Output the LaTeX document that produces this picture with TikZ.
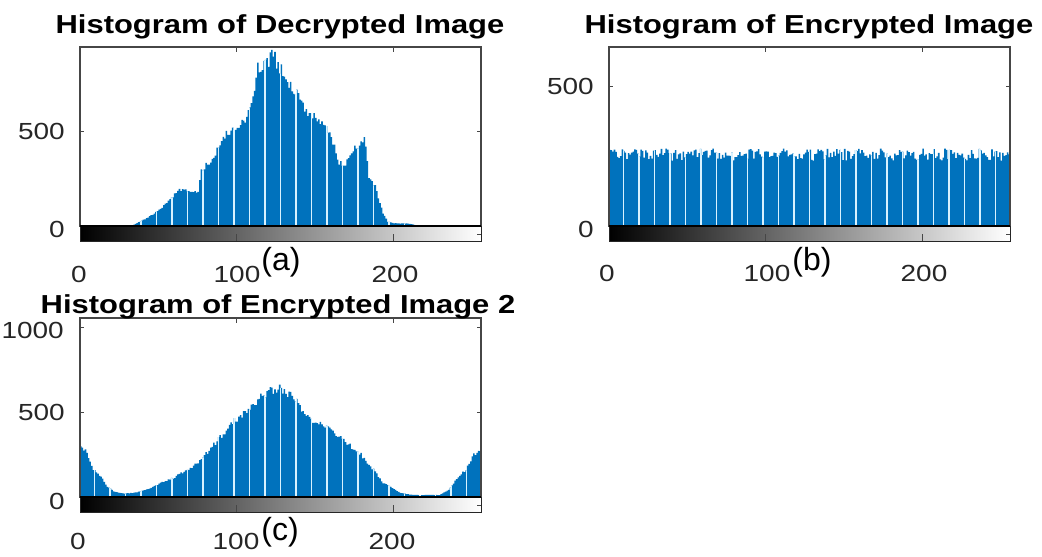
\documentclass[tikz,border=0pt]{standalone}
\usepackage{fontspec}
\setmainfont{Liberation Sans}
\definecolor{histblue}{RGB}{0,114,189}
\definecolor{barlinecol}{RGB}{215,242,255}
\definecolor{axisgray}{RGB}{70,70,70}
\definecolor{ticktext}{RGB}{38,38,38}

% Build a step outline (\histpath) for 256 bins from piecewise-linear
% control points bin/count, with a relative random jitter per bin.
\newcommand\buildhist[2]{%
  \gdef\histpath{}%
  \foreach \cpb/\cph [remember=\cpb as \opb (initially 0),
                      remember=\cph as \oph (initially 0)] in {#2} {%
    \ifnum\cpb>\opb\relax
      \pgfmathtruncatemacro\lastbin{\cpb-1}%
      \foreach \k in {\opb,...,\lastbin} {%
        \pgfmathsetmacro\hv{max(0,(\oph+(\cph-\oph)*(\k-\opb)/(\cpb-\opb))*(1+#1*rand))}%
        \pgfmathtruncatemacro\kk{\k+1}%
        \xdef\histpath{\histpath -- (\k,\hv) -- (\kk,\hv)}%
      }%
    \fi
  }%
}

% Histogram bars, colour bar and frame of one panel.
% #1 left x, #2 zero-line y, #3 top y, #4 pixels per count, #5 jitter, #6 control points
\newcommand\histpanel[6]{%
  \begin{scope}[shift={(#1,#2)}, xscale=1.5664, yscale=-#4]
    \buildhist{#5}{#6}
    \fill[hbar] (0,0) \histpath -- (256,0) -- cycle;
    \begin{scope}
      \clip (0,0) \histpath -- (256,0) -- cycle;
      \foreach \j in {1,...,25}
        \draw[barline] ({\j*9.895-0.64},0) -- ({\j*9.895-0.64},3000);
    \end{scope}
  \end{scope}
  \draw[axisbox] (#1,#3) rectangle ({#1+401},#2);
  \draw[tickmark] ({#1+156.6},#3) -- ++(0,5);
  \draw[tickmark] ({#1+313.3},#3) -- ++(0,5);
  \shade[left color=black, right color=white] (#1,#2) rectangle ({#1+401},{#2+15});
  \draw[cbframe] (#1,#2) rectangle ({#1+401},{#2+15});
  \draw[zeroline] (#1,#2) -- ({#1+401},#2);
  \draw[tickmark] ({#1+156.6},{#2+15}) -- ++(0,-7);
  \draw[tickmark] ({#1+313.3},{#2+15}) -- ++(0,-7);
  \draw[tickmark] ({#1+401},{#2+8}) -- ++(-4,0);
}

\begin{document}
\begin{tikzpicture}[x=1pt, y=-1pt,
  hbar/.style={fill=histblue},
  barline/.style={draw=barlinecol, line width=1.4pt},
  axisbox/.style={draw=axisgray, line width=1.1pt},
  tickmark/.style={draw=axisgray, line width=0.9pt},
  cbframe/.style={draw=black!85, line width=1pt},
  zeroline/.style={draw=black, line width=2.6pt},
  plottitle/.style={font=\fontsize{26}{30}\selectfont\bfseries, xscale=1.19,
                    anchor=base, inner sep=0pt},
  ticklab/.style={font=\fontsize{23.3}{28}\selectfont, text=ticktext, xscale=1.2,
                  inner sep=0pt},
  panellab/.style={font=\fontsize{32}{38}\selectfont, anchor=base, inner sep=0pt}]
\useasboundingbox (0,0) rectangle (1042,557);
\fill[white] (0,0) rectangle (1042,557);
\pgfmathsetseed{4711}

% ---------- (a) decrypted image ----------
\histpanel{80}{226}{47}{0.19}{0.05}{0/0, 32/0, 36/15, 42/40, 47/67, 52/100, 57/135,
  62/190, 70/185, 75/180, 77/300, 82/330, 86/380, 91/470, 97/520, 105/560, 108/600,
  110/660, 113/820, 118/870, 122/890, 125/870, 129/800, 135/716, 140/663, 148/575,
  155/540, 161/450, 165/330, 170/335, 174/400, 180/455, 182/440, 184/260, 188/210,
  193/67, 196/23, 200/15, 210/12, 216/0, 256/0}
\draw[tickmark] (80,131) -- ++(4,0);
\draw[tickmark] (481,131) -- ++(-4,0);
\node[plottitle] (ta) at (280,33) {Histogram of Decrypted Image};
\node[ticklab, anchor=east] (ya500) at (65,131) {500};
\node[ticklab, anchor=east] (ya0) at (65,229) {0};
\node[ticklab] (xa0) at (79,274) {0};
\node[ticklab] (xa100) at (237,274) {100};
\node[ticklab] (xa200) at (395,274) {200};
\node[panellab] (la) at (281,270) {(a)};

% ---------- (b) encrypted image ----------
\histpanel{609}{226}{47}{0.28}{0.085}{0/255, 256/255}
\draw[tickmark] (609,86) -- ++(4,0);
\draw[tickmark] (1010,86) -- ++(-4,0);
\node[plottitle] (tb) at (809,33) {Histogram of Encrypted Image};
\node[ticklab, anchor=east] (yb500) at (594,86) {500};
\node[ticklab, anchor=east] (yb0) at (594,229) {0};
\node[ticklab] (xb0) at (607,273) {0};
\node[ticklab] (xb100) at (767,273) {100};
\node[ticklab] (xb200) at (924,273) {200};
\node[panellab] (lb) at (812,270) {(b)};

% ---------- (c) encrypted image 2 ----------
\histpanel{80}{497}{318}{0.17}{0.05}{0/300, 4/260, 8/160, 13/120, 17/63, 21/33,
  27/20, 34/24, 42/43, 49/73, 59/112, 68/160, 76/210, 87/327, 97/435, 106/514,
  114/580, 119/625, 125/635, 131/625, 136/580, 144/475, 153/435, 161/376, 170/318,
  178/260, 187/160, 193/82, 199/53, 204/24, 212/12, 229/12, 235/43, 241/120,
  246/160, 250/240, 256/275}
\draw[tickmark] (80,412) -- ++(4,0);
\draw[tickmark] (481,412) -- ++(-4,0);
\draw[tickmark] (80,327) -- ++(4,0);
\draw[tickmark] (481,327) -- ++(-4,0);
\node[plottitle] (tc) at (278,313) {Histogram of Encrypted Image 2};
\node[ticklab, anchor=east] (yc1000) at (64,330) {1000};
\node[ticklab, anchor=east] (yc500) at (65,412) {500};
\node[ticklab, anchor=east] (yc0) at (65,501) {0};
\node[ticklab] (xc0) at (78,541) {0};
\node[ticklab] (xc100) at (236,541) {100};
\node[ticklab] (xc200) at (392,541) {200};
\node[panellab] (lc) at (280,540) {(c)};
\end{tikzpicture}
\end{document}
